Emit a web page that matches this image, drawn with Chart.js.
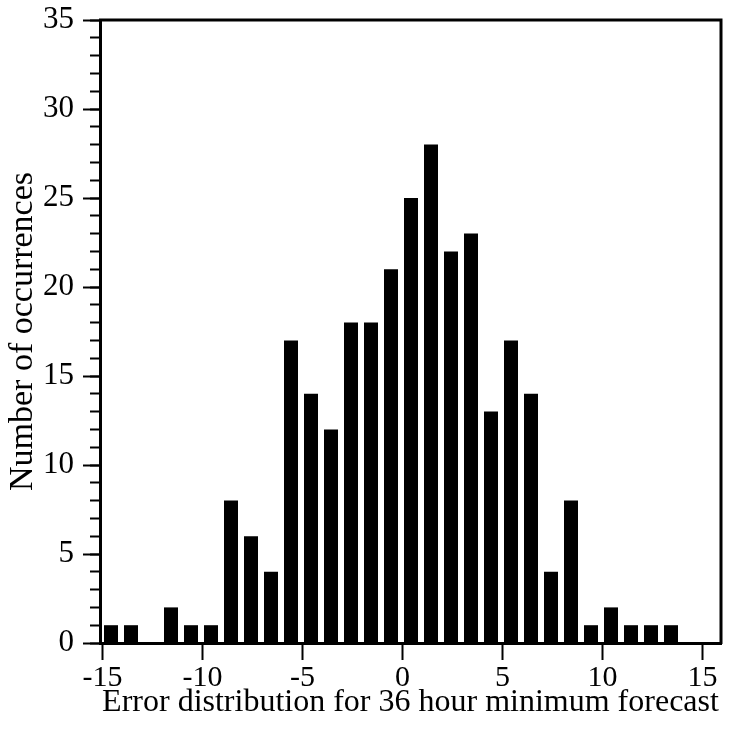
<!DOCTYPE html>
<html>
<head>
<meta charset="utf-8">
<script src="https://cdn.jsdelivr.net/npm/chart.js@4"></script>
<style>
  html, body { margin: 0; padding: 0; background: #fff; }
  #wrap { width: 732px; height: 731px; position: relative; }
</style>
</head>
<body>
<div id="wrap"><canvas id="hist"></canvas></div>
<script>
// error bins (degrees) and how often each occurred
const bins = [-15, -14, -13, -12, -11, -10, -9, -8, -7, -6, -5, -4, -3, -2, -1,
              0, 1, 2, 3, 4, 5, 6, 7, 8, 9, 10, 11, 12, 13];
const counts = [1, 1, 0, 2, 1, 1, 8, 6, 4, 17, 14, 12, 18, 18, 21,
                25, 28, 22, 23, 13, 17, 14, 4, 8, 1, 2, 1, 1, 1];

const xTicks = [-15, -10, -5, 0, 5, 10, 15];
const yTicks = [0, 5, 10, 15, 20, 25, 30, 35];

const FONT = '"Liberation Serif", "Times New Roman", serif';
const BAR_SHIFT = 0.42; // bars sit just right of their bin value

// top and right edges of the plot box
const frame = {
    id: "frame",
    afterDraw(chart) {
        const { ctx, chartArea: a } = chart;
        ctx.save();
        ctx.strokeStyle = "#000";
        ctx.lineWidth = 3;
        ctx.beginPath();
        ctx.moveTo(a.left - 1, a.top);
        ctx.lineTo(a.right, a.top);
        ctx.lineTo(a.right, a.bottom + 1);
        ctx.stroke();
        ctx.restore();
    }
};

new Chart(document.getElementById("hist"), {
    type: "bar",
    data: {
        datasets: [{
            data: bins.map((b, i) => ({ x: b + BAR_SHIFT, y: counts[i] })),
            backgroundColor: "#000",
            borderWidth: 0,
            barPercentage: 0.7,
            categoryPercentage: 1,
            yAxisID: "y"
        }]
    },
    options: {
        responsive: true,
        maintainAspectRatio: false,
        animation: false,
        layout: { padding: { top: 20, right: 11, left: 0, bottom: 0 } },
        plugins: { legend: { display: false }, tooltip: { enabled: false } },
        scales: {
            x: {
                type: "linear",
                offset: false,
                min: -15.13,
                max: 15.92,
                afterBuildTicks: s => { s.ticks = xTicks.map(v => ({ value: v })); },
                afterFit: s => { s.height = 88; s.paddingLeft = 0; s.paddingRight = 0; },
                grid: { offset: false, drawOnChartArea: false, tickLength: 17, tickWidth: 2, tickColor: "#000" },
                border: { display: true, width: 3, color: "#000" },
                ticks: { color: "#000", font: { family: FONT, size: 30 }, padding: 0, maxRotation: 0 },
                title: {
                    display: true,
                    text: "Error distribution for 36 hour minimum forecast",
                    color: "#000",
                    font: { family: FONT, size: 32 },
                    padding: { top: 0, bottom: 9 }
                }
            },
            y: {
                type: "linear",
                position: "left",
                weight: 1,
                min: 0,
                max: 35,
                afterBuildTicks: s => { s.ticks = yTicks.map(v => ({ value: v })); },
                afterFit: s => { s.width = 100; s.paddingTop = 0; s.paddingBottom = 0; },
                grid: { drawOnChartArea: false, tickLength: 17, tickWidth: 2, tickColor: "#000" },
                border: { display: true, width: 3, color: "#000" },
                ticks: { color: "#000", font: { family: FONT, size: 31 }, padding: 9 },
                title: {
                    display: true,
                    text: "Number of occurrences",
                    color: "#000",
                    font: { family: FONT, size: 34 },
                    padding: { top: 3, bottom: 0 }
                }
            },
            yMinor: {
                type: "linear",
                position: "left",
                weight: 0,
                min: 0,
                max: 35,
                ticks: { display: false, stepSize: 1 },
                afterFit: s => { s.width = 0; s.paddingTop = 0; s.paddingBottom = 0; },
                grid: { drawOnChartArea: false, tickLength: 10, tickWidth: 2, tickColor: "#000" },
                border: { display: false }
            }
        }
    },
    plugins: [frame]
});
</script>
</body>
</html>
